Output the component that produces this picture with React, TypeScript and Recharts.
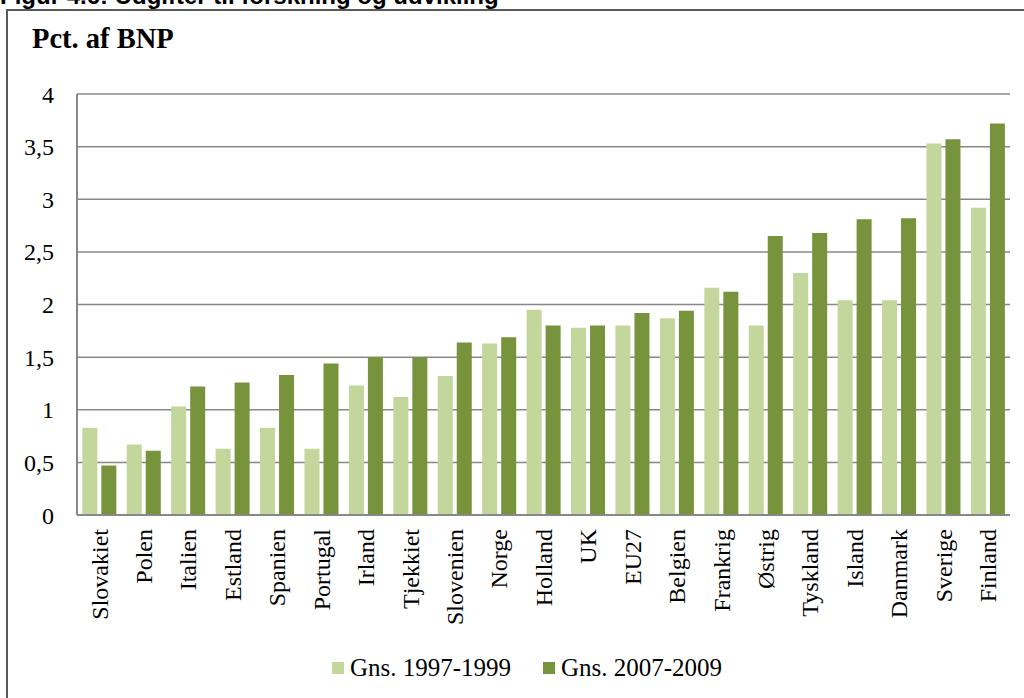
import React from 'react';
import { BarChart, Bar, XAxis, YAxis, CartesianGrid, Legend } from 'recharts';

const countries = [
  'Slovakiet', 'Polen', 'Italien', 'Estland', 'Spanien', 'Portugal', 'Irland',
  'Tjekkiet', 'Slovenien', 'Norge', 'Holland', 'UK', 'EU27', 'Belgien',
  'Frankrig', 'Østrig', 'Tyskland', 'Island', 'Danmark', 'Sverige', 'Finland',
];
const avg1997to1999 = [
  0.83, 0.67, 1.03, 0.63, 0.83, 0.63, 1.23, 1.12, 1.32, 1.63, 1.95,
  1.78, 1.80, 1.87, 2.16, 1.80, 2.30, 2.04, 2.04, 3.53, 2.92,
];
const avg2007to2009 = [
  0.47, 0.61, 1.22, 1.26, 1.33, 1.44, 1.50, 1.50, 1.64, 1.69, 1.80,
  1.80, 1.92, 1.94, 2.12, 2.65, 2.68, 2.81, 2.82, 3.57, 3.72,
];
const yTicks = [0, 0.5, 1, 1.5, 2, 2.5, 3, 3.5, 4];
const seriesNames = ['Gns. 1997-1999', 'Gns. 2007-2009'];
const seriesColors = ['#C3D69B', '#77933C'];
const titleText = 'Figur 4.6: Udgifter til forskning og udvikling';
const unitText = 'Pct. af BNP';

const data = countries.map((c, i) => ({
  name: c,
  a: avg1997to1999[i],
  b: avg2007to2009[i],
}));

const SERIF = '"Liberation Serif", "Times New Roman", serif';
const GRID = '#888888';

const XTick = (props: any) => {
  const { x, y, payload } = props;
  return (
    <g transform={`translate(${x},${y})`}>
      <text
        transform="rotate(-90)"
        x={0}
        y={0}
        dy="0.35em"
        textAnchor="end"
        fontFamily={SERIF}
        fontSize={24}
        fill="#000"
      >
        {payload.value}
      </text>
    </g>
  );
};

const LegendContent = () => (
  <div
    style={{
      display: 'flex',
      justifyContent: 'center',
      alignItems: 'center',
      height: 30,
      paddingLeft: 30,
      fontFamily: SERIF,
      fontSize: 25,
      color: '#000',
    }}
  >
    {seriesNames.map((n, i) => (
      <div key={n} style={{ display: 'flex', alignItems: 'center', marginRight: i === 0 ? 32 : 0 }}>
        <span style={{ display: 'inline-block', width: 12, height: 12, background: seriesColors[i], marginRight: 6 }} />
        <span style={{ whiteSpace: 'nowrap' }}>{n}</span>
      </div>
    ))}
  </div>
);

export default function App() {
  return (
    <div
      style={{
        position: 'fixed',
        left: 0,
        top: 0,
        width: 1024,
        height: 698,
        background: '#fff',
        overflow: 'hidden',
      }}
    >
      <svg width={1024} height={60} style={{ position: 'absolute', left: 0, top: 0 }}>
        <text x={0} y={4} fontFamily='"Liberation Sans", Arial, sans-serif' fontWeight="bold" fontSize={24} fill="#000">
          {titleText}
        </text>
        <text x={32} y={48} fontFamily={SERIF} fontWeight="bold" fontSize={28.5} fill="#000">
          {unitText}
        </text>
      </svg>
      <div
        style={{
          position: 'absolute',
          left: 6,
          top: 9,
          width: 1100,
          height: 800,
          borderLeft: '2px solid #5a5a5a',
          borderTop: '2px solid #5a5a5a',
        }}
      />
      <div style={{ position: 'absolute', left: 0, top: 0 }}>
        <BarChart
          width={1024}
          height={698}
          data={data}
          margin={{ top: 94, right: 14, left: 17, bottom: 15 }}
          barCategoryGap="12%"
          barGap={4}
        >
          <CartesianGrid yAxisId="left" vertical={false} stroke={GRID} strokeWidth={1.5} />
          <XAxis
            dataKey="name"
            interval={0}
            height={138}
            tick={<XTick />}
            tickLine={false}
            tickSize={0}
            tickMargin={14}
            axisLine={{ stroke: GRID, strokeWidth: 2 }}
          />
          <YAxis
            yAxisId="left"
            width={60}
            domain={[0, 4]}
            ticks={yTicks}
            tickFormatter={(v: number) => String(v).replace('.', ',')}
            tick={{ fontFamily: SERIF, fontSize: 24, fill: '#000' }}
            tickLine={false}
            tickSize={0}
            tickMargin={23}
            axisLine={{ stroke: GRID, strokeWidth: 2 }}
            interval={0}
          />
          <YAxis
            yAxisId="right"
            orientation="right"
            width={0}
            domain={[0, 4]}
            tick={false}
            tickLine={false}
            axisLine={{ stroke: GRID, strokeWidth: 2 }}
          />
          <Legend verticalAlign="bottom" wrapperStyle={{ left: 0, width: 1024 }} content={<LegendContent />} />
          <Bar yAxisId="left" dataKey="a" name={seriesNames[0]} fill={seriesColors[0]} isAnimationActive={false} />
          <Bar yAxisId="left" dataKey="b" name={seriesNames[1]} fill={seriesColors[1]} isAnimationActive={false} />
        </BarChart>
      </div>
    </div>
  );
}
